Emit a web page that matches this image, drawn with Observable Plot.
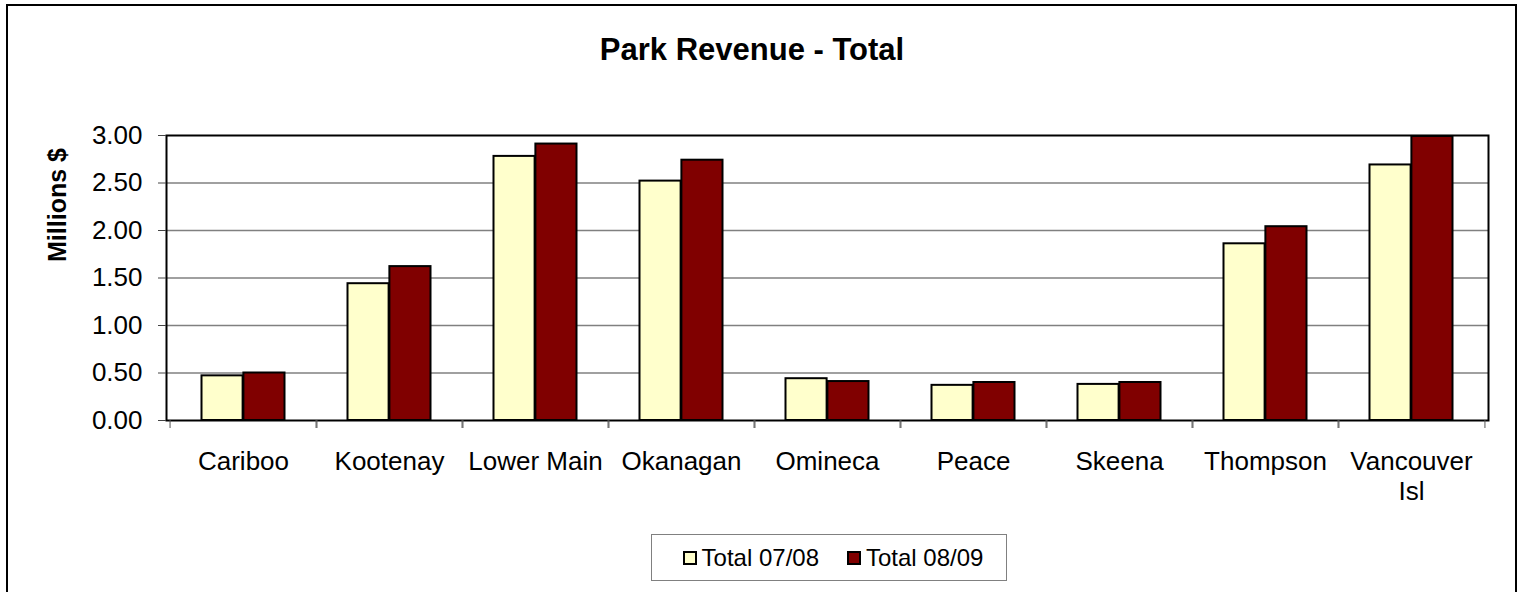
<!DOCTYPE html>
<html>
<head>
<meta charset="utf-8">
<script src="https://cdn.jsdelivr.net/npm/d3@7"></script>
<script src="https://cdn.jsdelivr.net/npm/@observablehq/plot@0.6"></script>
<style>
  html, body { margin: 0; padding: 0; background: white; overflow: hidden; }
  #wrap { position: relative; width: 1526px; height: 592px; font-family: "Liberation Sans", Arial, sans-serif; color: black; }
  #wrap svg { position: absolute; left: 0; top: 0; }
  #border { position: absolute; left: 6px; top: 4px; width: 1511px; height: 620px; border: 2px solid black; box-sizing: border-box; pointer-events: none; }
  #title { position: absolute; left: 0; top: 34px; width: 1504px; text-align: center; font-weight: bold; font-size: 31px; line-height: 31px; white-space: nowrap; }
  #ytitle { position: absolute; left: 57px; top: 205px; transform: translate(-50%, -50%) rotate(-90deg); font-weight: bold; font-size: 25px; line-height: 25px; white-space: nowrap; }
  #legend { position: absolute; left: 651px; top: 534px; width: 356px; height: 47px; border: 1px solid #808080; box-sizing: border-box; display: flex; align-items: center; justify-content: center; padding-left: 8px; font-size: 24px; background: white; }
  .item { display: flex; align-items: center; margin: 0 14px; }
  .sw { width: 14px; height: 14px; border: 2px solid black; box-sizing: border-box; margin-right: 5px; margin-top: 1px; }
</style>
</head>
<body>
<div id="wrap"></div>
<script>
const title = "Park Revenue - Total";
const yTitle = "Millions $";
const categories = ["Cariboo", "Kootenay", "Lower Main", "Okanagan", "Omineca", "Peace", "Skeena", "Thompson", "Vancouver Isl"];
const seriesNames = ["Total 07/08", "Total 08/09"];
const total0708 = [0.47, 1.44, 2.78, 2.52, 0.44, 0.37, 0.38, 1.86, 2.69];
const total0809 = [0.50, 1.62, 2.91, 2.74, 0.41, 0.40, 0.40, 2.04, 2.99];
const yTicks = [0, 0.5, 1, 1.5, 2, 2.5, 3];
const colors = ["#FFFFCC", "#800000"];

const W = 1526, H = 592;
const mL = 166, mR = 38, mT = 135, mB = 172;
const step = (W - mL - mR) / categories.length;
const barW = 42, outerInset = 31.5, innerInset = step - outerInset - barW;

const d0 = categories.map((c, i) => ({region: c, value: total0708[i]}));
const d1 = categories.map((c, i) => ({region: c, value: total0809[i]}));

const chart = Plot.plot({
  width: W, height: H,
  marginLeft: mL, marginRight: mR, marginTop: mT, marginBottom: mB,
  style: {fontFamily: '"Liberation Sans", Arial, sans-serif', fontSize: "26px", color: "black", background: "white"},
  x: {type: "band", domain: categories, padding: 0, label: null},
  y: {domain: [0, 3], label: null},
  marks: [
    Plot.gridY({ticks: yTicks.filter(t => t > 0 && t < 3), stroke: "#808080", strokeOpacity: 1, strokeWidth: 1.3}),
    Plot.barY(d0, {x: "region", y: "value", fill: colors[0], stroke: "black", strokeWidth: 2, insetLeft: outerInset, insetRight: innerInset}),
    Plot.barY(d1, {x: "region", y: "value", fill: colors[1], stroke: "black", strokeWidth: 2, insetLeft: innerInset, insetRight: outerInset}),
    Plot.frame({stroke: "black", strokeWidth: 2}),
    Plot.axisY({ticks: yTicks, tickFormat: d3.format(".2f"), tickSize: 8, tickPadding: 16, fontSize: 26, stroke: "#444", label: null}),
    Plot.axisX({tickSize: 0, tickPadding: 29, fontSize: 26, lineHeight: 1.13, label: null,
      tickFormat: d => d === "Vancouver Isl" ? "Vancouver\nIsl" : d}),
    Plot.axisX({tickSize: 8, tickFormat: () => "", dx: -step / 2, stroke: "#555", label: null}),
    Plot.axisX({tickSize: 8, tickFormat: () => "", dx: step / 2, stroke: "#555", label: null})
  ]
});

const wrap = document.getElementById("wrap");
wrap.appendChild(chart);

const t = document.createElement("div"); t.id = "title"; t.textContent = title; wrap.appendChild(t);
const yt = document.createElement("div"); yt.id = "ytitle"; yt.textContent = yTitle; wrap.appendChild(yt);
const lg = document.createElement("div"); lg.id = "legend";
seriesNames.forEach((n, i) => {
  const it = document.createElement("div"); it.className = "item";
  const sw = document.createElement("div"); sw.className = "sw"; sw.style.background = colors[i];
  const tx = document.createElement("span"); tx.textContent = n;
  it.appendChild(sw); it.appendChild(tx); lg.appendChild(it);
});
wrap.appendChild(lg);
const b = document.createElement("div"); b.id = "border"; wrap.appendChild(b);
</script>
</body>
</html>
